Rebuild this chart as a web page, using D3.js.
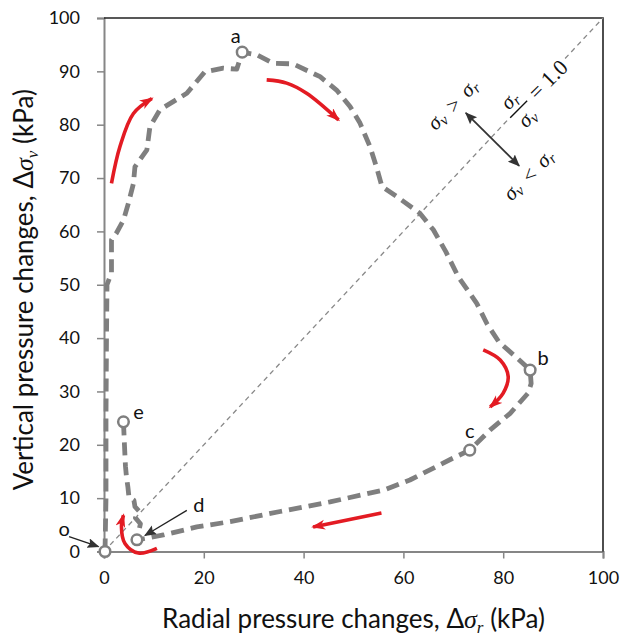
<!DOCTYPE html>
<html>
<head>
<meta charset="utf-8">
<script src="https://cdn.jsdelivr.net/npm/d3@7"></script>
<style>
  body { margin: 0; background: #fff; }
</style>
</head>
<body>
<div id="chart"></div>
<script>
// stress path o -> a -> b -> c -> d -> e (kPa)
const pathRadial = [0.2, 0.4, 0.4, 0.5, 0.6, 1.5, 1.5, 2.5, 3.9, 4.9, 5.9, 6.2, 8.6, 9.2, 11.2, 16.6, 20.2, 23.9, 26.6, 27.7,
  30.6, 33.9, 37.9, 43.3, 46.6, 49.3, 51.3, 53.3, 54.6, 55.7, 58.7, 63.3, 66, 68.5, 71, 74.7, 76.8, 79.2, 82.5, 85.4,
  85.6, 85, 81.4, 77.4, 73.3, 69.3, 61.3, 56, 45.3, 35.3, 25.3, 18.6, 11.9, 8.6, 6.6,
  7.3, 6.3, 7.0, 6.2, 6.0, 5.0, 4.8, 4.5, 4.3, 4.1, 3.9];
const pathVertical = [0, 10, 25, 40, 50, 52.2, 58.4, 59.7, 62.1, 65.3, 69, 72.1, 75.3, 79.6, 82.8, 85.9, 89.9, 90.6, 90.4, 93.6,
  93.1, 91.5, 91.4, 89, 86.5, 83.4, 80.3, 75.9, 72.1, 68.4, 66.5, 63.4, 60.3, 56.2, 51.5, 46.5, 42.6, 39.2, 36.5, 34,
  31.5, 29.7, 25.9, 22.8, 19, 17.2, 13.4, 11.5, 9.3, 7.5, 5.6, 4.6, 3.1, 2.5, 2.2,
  5.2, 6.3, 7.6, 8.4, 9.6, 10.2, 12, 14, 16, 20, 24.3];

// marked states
const pointNames = ["o", "a", "b", "c", "d", "e"];
const pointRadial = [0.2, 27.7, 85.4, 73.3, 6.6, 3.9];
const pointVertical = [0, 93.6, 34, 19, 2.2, 24.3];

// red direction arrows, [radial, vertical]
const arrowRise = [[1.5, 69], [3.2, 75.9], [5.9, 82.1], [9.6, 84.9]];
const arrowTop = [[32.6, 88.4], [36.6, 87.8], [40.6, 85.9], [47, 80.9]];
const arrowTurn = [[76, 37.8], [79.4, 35.9], [81, 32.8], [80, 29.7], [77.4, 27.1]];
const arrowBack = [[55.6, 7.2], [41.9, 4.6]];
const arrowHook = [[10.6, 0.6], [6.9, -0.3], [4.2, 1.5], [3.5, 4.6], [3.9, 6.8]];

const xTicks = [0, 20, 40, 60, 80, 100];
const yTicks = [0, 10, 20, 30, 40, 50, 60, 70, 80, 90, 100];

const width = 620, height = 637;
const margin = { left: 104, right: 17, top: 18, bottom: 85.5 };

const svg = d3.select("#chart").append("svg")
  .attr("width", width)
  .attr("height", height)
  .style("font-family", "Lato, 'Open Sans', sans-serif");

const x = d3.scaleLinear().domain([0, 100]).range([margin.left, width - margin.right]);
const y = d3.scaleLinear().domain([0, 100]).range([height - margin.bottom, margin.top]);

const defs = svg.append("defs");
defs.append("marker")
  .attr("id", "red-head")
  .attr("markerUnits", "userSpaceOnUse")
  .attr("markerWidth", 16).attr("markerHeight", 12)
  .attr("refX", 12).attr("refY", 5)
  .attr("orient", "auto")
  .append("path")
  .attr("d", "M0,0 L14,5 L0,10 L4,5 Z")
  .attr("fill", "#e31b23");
defs.append("marker")
  .attr("id", "dark-head")
  .attr("markerUnits", "userSpaceOnUse")
  .attr("markerWidth", 14).attr("markerHeight", 12)
  .attr("refX", 11).attr("refY", 5)
  .attr("orient", "auto-start-reverse")
  .append("path")
  .attr("d", "M0,0 L12,5 L0,10 L2,5 Z")
  .attr("fill", "#333");

// axes
const gX = svg.append("g")
  .attr("transform", `translate(0, ${y(0)})`)
  .call(d3.axisBottom(x).tickValues(xTicks).tickSize(7).tickPadding(13));
const gY = svg.append("g")
  .attr("transform", `translate(${x(0)}, 0)`)
  .call(d3.axisLeft(y).tickValues(yTicks).tickSize(7).tickPadding(17));
[gX, gY].forEach(g => {
  g.select(".domain").attr("stroke", "#868686").attr("stroke-width", 2);
  g.selectAll(".tick line").attr("stroke", "#868686").attr("stroke-width", 1.5);
  g.selectAll(".tick text").attr("fill", "#111").style("font-size", "18px")
    .style("font-family", "Lato, sans-serif");
});

// top and right border
svg.append("path")
  .attr("d", `M${x(0)},${y(100)} H${x(100)} V${y(0)}`)
  .attr("fill", "none")
  .attr("stroke", "#222")
  .attr("stroke-width", 1.6);

// 1:1 line
svg.append("line")
  .attr("x1", x(0)).attr("y1", y(0))
  .attr("x2", x(100)).attr("y2", y(100))
  .attr("stroke", "#888")
  .attr("stroke-width", 1.3)
  .attr("stroke-dasharray", "5,4");

// stress path
const pathData = pathRadial.map((r, i) => [r, pathVertical[i]]);
const line = d3.line().x(d => x(d[0])).y(d => y(d[1]));
svg.append("path")
  .datum(pathData)
  .attr("d", line)
  .attr("fill", "none")
  .attr("stroke", "#7f7f7f")
  .attr("stroke-width", 4.8)
  .attr("stroke-linejoin", "round")
  .attr("stroke-dasharray", "13,7");

// red arrows
const curve = d3.line().x(d => x(d[0])).y(d => y(d[1])).curve(d3.curveCatmullRom.alpha(0.5));
[arrowRise, arrowTop, arrowTurn, arrowBack, arrowHook].forEach(a => {
  svg.append("path")
    .datum(a)
    .attr("d", curve)
    .attr("fill", "none")
    .attr("stroke", "#e31b23")
    .attr("stroke-width", 3.6)
    .attr("marker-end", "url(#red-head)");
});

// state markers
const points = pointNames.map((n, i) => ({ name: n, r: pointRadial[i], v: pointVertical[i] }));
svg.selectAll("circle.state")
  .data(points)
  .enter().append("circle")
  .classed("state", true)
  .attr("cx", d => x(d.r))
  .attr("cy", d => y(d.v))
  .attr("r", 5.3)
  .attr("fill", "#fff")
  .attr("stroke", "#7f7f7f")
  .attr("stroke-width", 2.5);

// state labels: [radial, vertical] for label anchor
const labelPos = { a: [26.4, 96.6], b: [88, 36.3], c: [73.3, 22.6], d: [19, 8.8], e: [6.9, 26.2], o: [-8, 4.3] };
svg.selectAll("text.state-label")
  .data(points)
  .enter().append("text")
  .classed("state-label", true)
  .attr("x", d => x(labelPos[d.name][0]))
  .attr("y", d => y(labelPos[d.name][1]))
  .attr("text-anchor", "middle")
  .attr("dy", "0.35em")
  .style("font-size", "20px")
  .attr("fill", "#111")
  .text(d => d.name);

// leader arrows for o and d
const leaders = [[[-7, 2.8], [-1.1, 0.9]], [[16.6, 7.7], [8.2, 3]]];
leaders.forEach(l => {
  svg.append("line")
    .attr("x1", x(l[0][0])).attr("y1", y(l[0][1]))
    .attr("x2", x(l[1][0])).attr("y2", y(l[1][1]))
    .attr("stroke", "#222")
    .attr("stroke-width", 1.3)
    .attr("marker-end", "url(#dark-head)");
});

// double arrow across the 1:1 line
svg.append("line")
  .attr("x1", x(72.5)).attr("y1", y(82.2))
  .attr("x2", x(83.2)).attr("y2", y(72.3))
  .attr("stroke", "#333")
  .attr("stroke-width", 1.8)
  .attr("marker-start", "url(#dark-head)")
  .attr("marker-end", "url(#dark-head)");

const mathFont = "'Liberation Serif', 'DejaVu Serif', serif";
function sigma(g, sub, xx, yy, anchor) {
  const t = g.append("text")
    .attr("x", xx).attr("y", yy)
    .attr("text-anchor", anchor || "middle")
    .style("font-family", mathFont)
    .style("font-style", "italic")
    .style("font-size", "21px")
    .attr("fill", "#111");
  t.append("tspan").text("σ");
  t.append("tspan").attr("dy", 3).style("font-size", "15px").text(sub);
  return t;
}

// sigma_v > sigma_r
const gGt = svg.append("g").attr("transform", `translate(${x(70.2)}, ${y(83.6)}) rotate(-45)`);
sigma(gGt, "v", -23, 5);
gGt.append("text").attr("x", 0).attr("y", 6).attr("text-anchor", "middle")
  .style("font-family", mathFont).style("font-size", "21px").attr("fill", "#111").text(">");
sigma(gGt, "r", 23, 5);

// sigma_v < sigma_r
const gLt = svg.append("g").attr("transform", `translate(${x(85.4)}, ${y(70.4)}) rotate(-45)`);
sigma(gLt, "v", -23, 5);
gLt.append("text").attr("x", 0).attr("y", 6).attr("text-anchor", "middle")
  .style("font-family", mathFont).style("font-size", "21px").attr("fill", "#111").text("<");
sigma(gLt, "r", 23, 5);

// sigma_r / sigma_v = 1.0, on a white box over the 1:1 line
const gEq = svg.append("g").attr("transform", `translate(${x(83.1)}, ${y(82.9)}) rotate(-45)`);
gEq.append("rect").attr("x", -14).attr("y", -22).attr("width", 82).attr("height", 46).attr("fill", "#fff");
sigma(gEq, "r", 0, -6);
gEq.append("line").attr("x1", -12).attr("x2", 12).attr("y1", 0).attr("y2", 0)
  .attr("stroke", "#111").attr("stroke-width", 1.4);
sigma(gEq, "v", 0, 19);
gEq.append("text").attr("x", 19).attr("y", 7)
  .style("font-family", mathFont).style("font-size", "22px").attr("fill", "#111")
  .text("= 1.0");

// axis titles
const xTitle = svg.append("text")
  .attr("x", (x(0) + x(100)) / 2)
  .attr("y", 628)
  .attr("text-anchor", "middle")
  .style("font-size", "26px")
  .attr("fill", "#111");
xTitle.append("tspan").text("Radial pressure changes, Δ");
xTitle.append("tspan").style("font-family", mathFont).style("font-style", "italic").text("σ");
xTitle.append("tspan").attr("dy", 5).style("font-family", mathFont).style("font-style", "italic")
  .style("font-size", "17px").text("r");
xTitle.append("tspan").attr("dy", -5).text(" (kPa)");

const yTitle = svg.append("text")
  .attr("transform", `translate(33, ${(y(0) + y(100)) / 2 + 5}) rotate(-90)`)
  .attr("text-anchor", "middle")
  .style("font-size", "26px")
  .attr("fill", "#111");
yTitle.append("tspan").text("Vertical pressure changes, Δ");
yTitle.append("tspan").style("font-family", mathFont).style("font-style", "italic").text("σ");
yTitle.append("tspan").attr("dy", 5).style("font-family", mathFont).style("font-style", "italic")
  .style("font-size", "17px").text("v");
yTitle.append("tspan").attr("dy", -5).text(" (kPa)");
</script>
</body>
</html>
